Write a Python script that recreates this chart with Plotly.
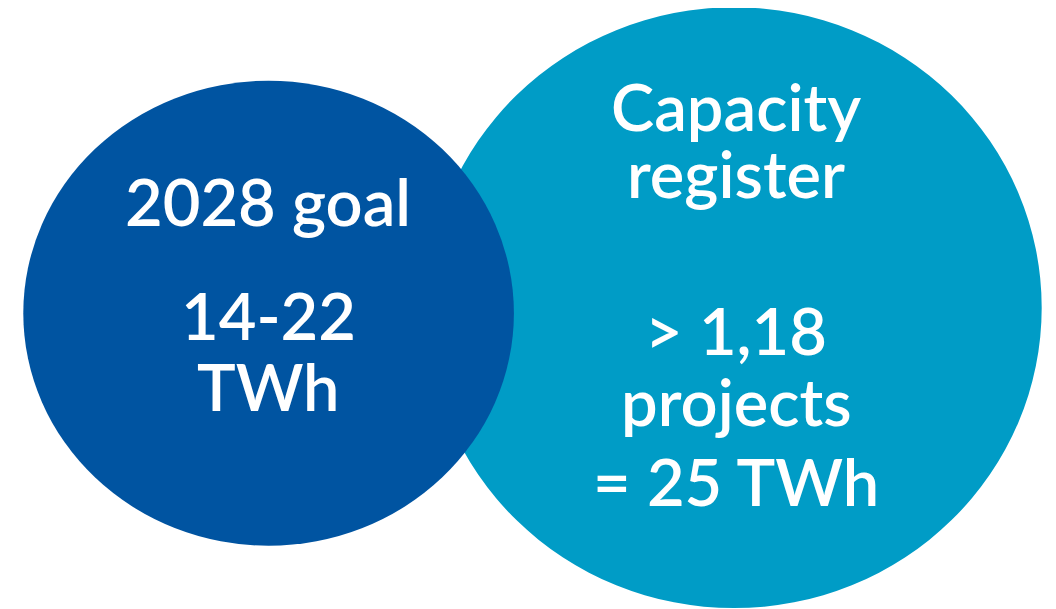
import plotly.graph_objects as go

# Text content
goal_lines = ["2028 goal", "14-22", "TWh"]
register_lines = ["Capacity", "register", "> 1,18", "projects", "= 25 TWh"]

# Layout constants (pixel space of the page)
W, H = 1056, 609
OFF = 8  # page body margin compensation
goal_baselines = [228, 341.7, 413]
register_baselines = [133, 200, 357, 428, 508]
FS = 65
FONT = "Lato"

DARK = "#0054A1"
LIGHT = "#009CC6"

fig = go.Figure()
fig.add_trace(go.Scatter(x=[OFF, W], y=[OFF, H], mode="markers", marker=dict(opacity=0),
                         hoverinfo="skip", showlegend=False))

# light circle behind, dark circle in front
fig.add_shape(type="circle", xref="x", yref="y", x0=734 - 307.7, x1=734 + 307.7, y0=307.7 - 300.4, y1=307.7 + 300.4,
              fillcolor=LIGHT, line=dict(width=0), layer="below")
fig.add_shape(type="circle", xref="x", yref="y", x0=268.6 - 245.3, x1=268.6 + 245.3, y0=313.2 - 232.5, y1=313.2 + 232.5,
              fillcolor=DARK, line=dict(width=0), layer="below")

for txt, b in zip(goal_lines, goal_baselines):
    fig.add_annotation(x=268, y=b - 0.41 * FS, xref="x", yref="y", text=txt, showarrow=False,
                       xanchor="center", yanchor="middle",
                       font=dict(family=FONT, size=FS, color="white", weight=600))
for txt, b in zip(register_lines, register_baselines):
    fig.add_annotation(x=736, y=b - 0.41 * FS, xref="x", yref="y", text=txt, showarrow=False,
                       xanchor="center", yanchor="middle",
                       font=dict(family=FONT, size=FS, color="white", weight=600))

fig.update_layout(width=W, height=H, margin=dict(l=0, r=0, t=0, b=0),
                  paper_bgcolor="white", plot_bgcolor="white",
                  xaxis=dict(range=[OFF, W + OFF], visible=False, fixedrange=True),
                  yaxis=dict(range=[H + OFF, OFF], visible=False, fixedrange=True),
                  showlegend=False)
fig.write_html("out.html", config={"displayModeBar": False})
